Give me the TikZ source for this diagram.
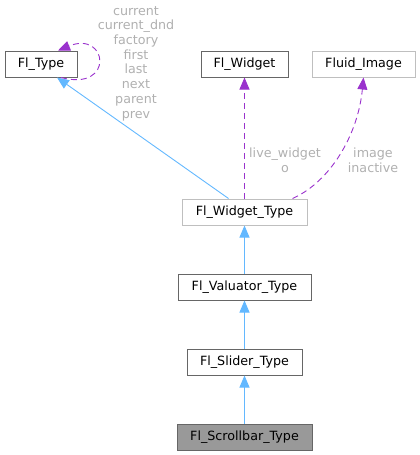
\documentclass[tikz,border=0pt]{standalone}
\usepackage{fontspec}
\setmainfont{DejaVu Sans}
\usepackage{tikz}
\usetikzlibrary{arrows.meta,positioning,calc}
\definecolor{cinh}{HTML}{63B8FF}
\definecolor{cuse}{HTML}{9A32CD}
\definecolor{cdark}{HTML}{666666}
\definecolor{clight}{HTML}{BFBFBF}
\definecolor{clabel}{HTML}{B0B0B0}
\tikzset{
  cls/.style={draw=cdark,fill=white,font=\fontsize{12.7}{14}\selectfont,inner xsep=0pt,minimum height=26pt,line width=1pt},
  ext/.style={cls,draw=clight},
  inh/.style={cinh,line width=0.9pt,-{Triangle[length=12pt,width=10pt]}},
  dep/.style={cuse,line width=0.9pt,dash pattern=on 6pt off 4pt,-{Triangle[length=12pt,width=10pt]}},
  lbl/.style={text=clabel,font=\fontsize{12.7}{14.7}\selectfont,align=center}
}

\begin{document}
\begin{tikzpicture}[x=1pt,y=-1pt]
\useasboundingbox (0,0) rectangle (420,455);
\node[cls,minimum width=72pt] (fltype) at (41,64) {Fl\_Type};
\node[cls,minimum width=87pt] (flwidget) at (244.5,64) {Fl\_Widget};
\node[ext,minimum width=103pt] (fluidimg) at (363.5,64) {Fluid\_Image};
\node[ext,minimum width=125pt] (widgettype) at (244.5,212) {Fl\_Widget\_Type};
\node[cls,minimum width=133pt] (valuatortype) at (244.5,287) {Fl\_Valuator\_Type};
\node[cls,minimum width=115pt] (slidertype) at (244.5,362) {Fl\_Slider\_Type};
\node[cls,fill=black!40,minimum width=135pt] (scrollbartype) at (244.5,437) {Fl\_Scrollbar\_Type};

\draw[inh] (scrollbartype) -- (slidertype);
\draw[inh] (slidertype) -- (valuatortype);
\draw[inh] (valuatortype) -- (widgettype);
\draw[inh] ($(widgettype.north)+(-16,0)$) -- ($(fltype.south)+(16,0)$);

\draw[dep] (widgettype) -- (flwidget);
\draw[dep] ($(widgettype.north)+(48,0)$) .. controls (330,182) and (358,135) .. (fluidimg.south);
\draw[dep] ($(fltype.south)+(20,0)$) .. controls (115,92) and (108,30) .. ($(fltype.north)+(17,0)$);

\node[lbl] (fltypelbl) at (136,63.5) {current\\current\_dnd\\factory\\first\\last\\next\\parent\\prev};
\node[lbl] (widgetlbl) at (285,160) {live\_widget\\o};
\node[lbl] (imagelbl) at (373,160) {image\\inactive};
\end{tikzpicture}
\end{document}
